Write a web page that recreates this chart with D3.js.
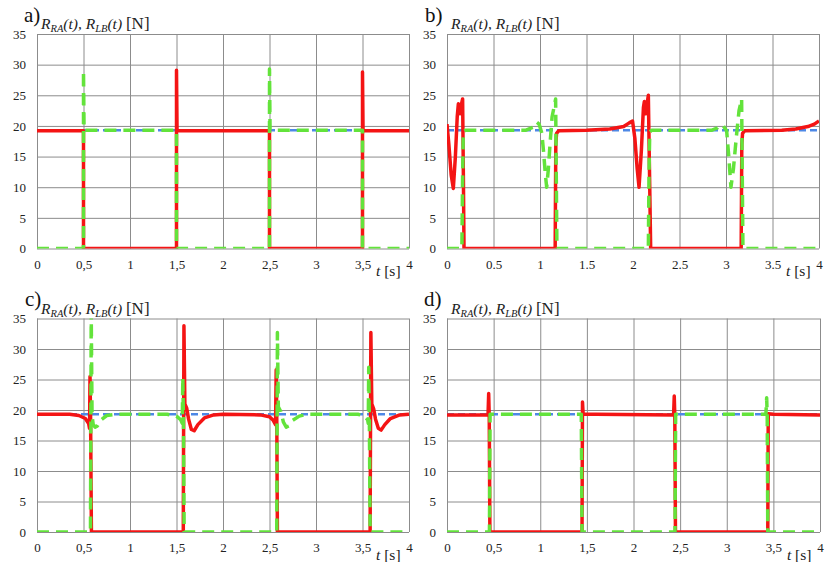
<!DOCTYPE html>
<html><head><meta charset="utf-8">
<script src="https://cdn.jsdelivr.net/npm/d3@7"></script>
<style>
body{margin:0;background:#fff;}
svg{display:block;}
svg text{font-family:"Liberation Serif","Tinos","Times New Roman","DejaVu Serif",serif !important;}
</style></head><body>
<svg id="chart" width="826" height="562"></svg>
<script>
// ---------- data ----------
const xTicks = [0, 0.5, 1, 1.5, 2, 2.5, 3, 3.5, 4];
const yTicks = [0, 5, 10, 15, 20, 25, 30, 35];
const panelLabels = ["a)", "b)", "c)", "d)"];
const staticLoad = [[0, 19.3], [4, 19.3]];

const aRed = [[0,19.2],[0.5,19.2],[0.5,0],[1.5,0],[1.5,29.1],[1.506,19.2],[2.5,19.2],[2.5,0],[3.5,0],[3.5,28.8],[3.506,19.2],[4,19.2]];
const aGreen = [[0,0],[0.5,0],[0.5,29],[0.506,19.3],[1.5,19.3],[1.5,0],[2.5,0],[2.5,29.3],[2.506,19.3],[3.5,19.3],[3.5,0],[4,0]];

const bRed = [[0,20.3],[0.02,17],[0.045,12],[0.068,9.8],[0.09,15],[0.11,21.5],[0.122,23.6],[0.14,22],[0.155,23.5],[0.168,24.4],[0.176,12],[0.183,0],[1.163,0],[1.17,17],[1.178,18.8],[1.2,19.2],[1.5,19.3],[1.75,19.5],[1.9,19.9],[1.96,20.5],[1.995,20.8],[2.02,18],[2.045,13],[2.065,10],[2.09,16],[2.112,23],[2.122,24],[2.14,22],[2.155,24],[2.165,25],[2.178,12],[2.19,0],[3.163,0],[3.17,17],[3.178,18.8],[3.2,19.2],[3.6,19.3],[3.75,19.5],[3.88,19.9],[3.95,20.3],[4,20.8]];
const bGreen = [[0,0],[0.16,0],[0.168,12],[0.175,19],[0.2,19.3],[0.85,19.3],[0.93,19.8],[0.965,20.6],[0.99,20.3],[1.02,18.8],[1.04,15.5],[1.058,12],[1.072,10],[1.09,13],[1.11,17.5],[1.13,21.5],[1.15,23],[1.168,24.4],[1.175,12],[1.182,0],[2.165,0],[2.172,12],[2.18,19],[2.2,19.3],[2.85,19.3],[2.91,19.7],[2.935,20.1],[2.97,20],[3.007,19.2],[3.03,15],[3.053,10],[3.08,13],[3.11,18],[3.14,22.5],[3.168,24.4],[3.175,12],[3.182,0],[4,0]];

const cRed = [[0,19.3],[0.35,19.3],[0.45,19.1],[0.52,18.6],[0.555,17.8],[0.565,17],[0.57,25.5],[0.576,19],[0.585,0],[1.573,0],[1.58,33.8],[1.59,21],[1.61,20.3],[1.63,18.5],[1.66,16.8],[1.69,16.6],[1.73,17.6],[1.8,18.7],[1.9,19.2],[2,19.3],[2.4,19.2],[2.5,18.9],[2.54,18.3],[2.565,17.6],[2.572,26.6],[2.578,19],[2.585,0],[3.582,0],[3.59,32.7],[3.6,21],[3.62,20.2],[3.64,18.5],[3.67,17],[3.7,16.7],[3.74,17.6],[3.8,18.6],[3.9,19.2],[4,19.3]];
const cGreen = [[0,0],[0.575,0],[0.583,36],[0.592,19],[0.605,17.6],[0.625,17.2],[0.65,17.4],[0.69,18.4],[0.75,19.1],[0.85,19.3],[1.4,19.3],[1.5,19],[1.545,18.4],[1.562,17.8],[1.568,25.3],[1.575,18],[1.582,0],[2.578,0],[2.585,32.7],[2.595,20.5],[2.62,19.8],[2.65,18],[2.68,17.2],[2.71,17.4],[2.75,18.3],[2.82,19],[2.9,19.3],[3.45,19.3],[3.52,19],[3.555,18.4],[3.562,17.8],[3.567,27],[3.574,18],[3.582,0],[4,0]];

const dRed = [[0,19.2],[0.44,19.2],[0.447,22.7],[0.453,19],[0.46,0],[1.448,0],[1.453,21.3],[1.46,19.3],[1.6,19.3],[2.43,19.2],[2.437,22.3],[2.443,19],[2.45,0],[3.44,0],[3.445,19.4],[3.5,19.3],[4,19.2]];
const dGreen = [[0,0],[0.455,0],[0.462,19.3],[1.44,19.3],[1.448,0],[2.445,0],[2.452,19.3],[3.42,19.3],[3.428,22],[3.434,19],[3.44,0],[4,0]];

// ---------- layout ----------
const panels = [
  {label:panelLabels[0], red:aRed, green:aGreen, sep:",", L:37,  R:409, T:34,    B:248.5, lx:24,  ly:22},
  {label:panelLabels[1], red:bRed, green:bGreen, sep:".", L:447, R:819, T:34,    B:248.5, lx:425, ly:22},
  {label:panelLabels[2], red:cRed, green:cGreen, sep:",", L:37,  R:409, T:318.5, B:532,   lx:25,  ly:306},
  {label:panelLabels[3], red:dRed, green:dGreen, sep:",", L:447, R:820, T:318.5, B:532,   lx:424, ly:306}
];

const FONT = "'Liberation Serif','Tinos','Times New Roman','DejaVu Serif',serif";
const svg = d3.select("#chart").attr("font-family", FONT);
const RED = "#f41414", GREEN = "#63e33b", BLUE = "#4d88e6", GRID = "#8c8c8c";

panels.forEach((p, i) => {
  const x = d3.scaleLinear().domain([0, 4]).range([p.L, p.R]);
  const y = d3.scaleLinear().domain([0, 35]).range([p.B, p.T]);
  const g = svg.append("g");

  const ya = d3.axisLeft(y).tickValues(yTicks).tickSizeInner(-(p.R - p.L)).tickSizeOuter(0).tickPadding(11);
  const yg = g.append("g").attr("transform", `translate(${p.L},0)`).call(ya).attr("font-family", FONT);
  yg.select(".domain").remove();
  yg.selectAll("line").attr("stroke", GRID).attr("stroke-width", 1);
  yg.selectAll("text").attr("font-size", 13).attr("fill", "#222");

  const xa = d3.axisBottom(x).tickValues(xTicks).tickSizeInner(-(p.B - p.T)).tickSizeOuter(0).tickPadding(11)
    .tickFormat(d => String(d).replace(".", p.sep));
  const xg = g.append("g").attr("transform", `translate(0,${p.B})`).call(xa).attr("font-family", FONT);
  xg.select(".domain").remove();
  xg.selectAll("line").attr("stroke", GRID).attr("stroke-width", 1);
  xg.selectAll("text").attr("font-size", 13).attr("fill", "#222");

  const cid = "clip" + i;
  svg.append("clipPath").attr("id", cid).append("rect")
    .attr("x", p.L).attr("y", p.T).attr("width", p.R - p.L).attr("height", p.B - p.T);
  const plot = g.append("g").attr("clip-path", `url(#${cid})`);

  const line = d3.line().x(d => x(d[0])).y(d => y(d[1]));
  plot.append("path").datum(staticLoad).attr("d", line).attr("fill", "none")
    .attr("stroke", BLUE).attr("stroke-width", 2.5).attr("stroke-dasharray", "7,4");
  plot.append("path").datum(p.red).attr("d", line).attr("fill", "none")
    .attr("stroke", RED).attr("stroke-width", 3.5).attr("stroke-linejoin", "round");
  plot.append("path").datum(p.green).attr("d", line).attr("fill", "none")
    .attr("stroke", GREEN).attr("stroke-width", 3.5).attr("stroke-dasharray", "12,7").attr("stroke-linejoin", "round");

  g.append("text").attr("x", p.lx).attr("y", p.ly).attr("font-size", 21).attr("fill", "#111").text(p.label);

  const t = g.append("text").attr("x", p.L + 4).attr("y", p.T - 5).attr("fill", "#222").attr("font-size", 15.5);
  t.append("tspan").attr("font-style", "italic").text("R");
  t.append("tspan").attr("font-style", "italic").attr("font-size", 10.5).attr("dy", 3).text("RA");
  t.append("tspan").attr("font-style", "italic").attr("dy", -3).text("(t), ");
  t.append("tspan").attr("font-style", "italic").text("R");
  t.append("tspan").attr("font-style", "italic").attr("font-size", 10.5).attr("dy", 3).text("LB");
  t.append("tspan").attr("font-style", "italic").attr("dy", -3).text("(t) ");
  t.append("tspan").attr("font-size", 17).text("[N]");

  const u = g.append("text").attr("x", x(3.5) + 13.5).attr("y", p.B + 27.5).attr("fill", "#222").attr("font-size", 15.5);
  u.append("tspan").attr("font-style", "italic").text("t");
  u.append("tspan").text(" [s]");
});
</script>
</body></html>
